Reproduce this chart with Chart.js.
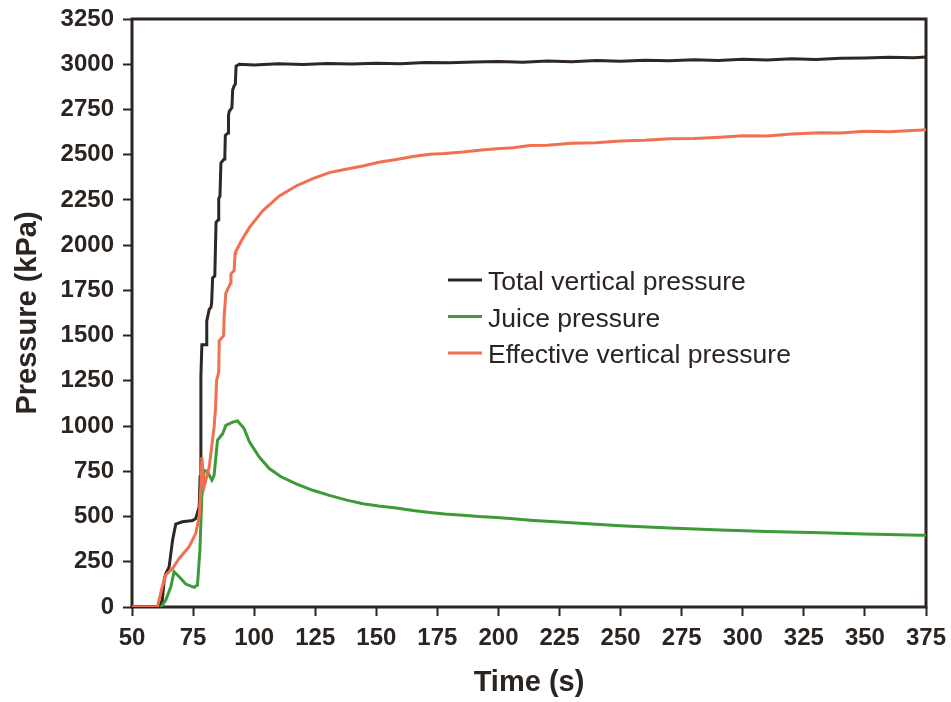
<!DOCTYPE html>
<html>
<head>
<meta charset="utf-8">
<script src="https://cdn.jsdelivr.net/npm/chart.js@4.4.1/dist/chart.umd.min.js"></script>
<style>
    html, body { margin: 0; background: #fff; }
    #wrap { width: 951px; height: 702px; }
</style>
</head>
<body>
<div id="wrap"><canvas id="chart" width="951" height="702"></canvas></div>
<script>
/* Pressure vs time: total vertical, juice and effective pressure */

const INK = '#2b2421';
const C_TOTAL = '#2e2724';
const C_JUICE = '#3d9b37';
const C_EFF = '#f0704f';

const X_TICKS = [50, 75, 100, 125, 150, 175, 200, 225, 250, 275, 300, 325, 350, 375];
const Y_TICKS = [0, 250, 500, 750, 1000, 1250, 1500, 1750, 2000, 2250, 2500, 2750, 3000, 3250];

// Total vertical pressure
const totalTime = [
    50, 60.5, 62.4, 63.2, 63.8, 65.2,
    66.6, 67.9, 70.6, 74.8, 76.1, 77.5,
    77.9, 78.2, 78.6, 80.4, 80.6, 81.6,
    82.3, 82.6, 83.0, 83.9, 84.1, 84.4,
    85.3, 85.5, 86.0, 86.4, 87.7, 88.0,
    88.2, 89.3, 89.5, 89.8, 90.9, 91.2,
    91.8, 92.3, 92.6, 93.9, 100, 110,
    120, 130, 140, 150, 160, 170, 180, 190, 200, 210, 220, 230, 240,
    250, 260, 270, 280, 290, 300, 310, 320, 330, 340, 350, 360, 370, 375,
];
const totalKPa = [
    0, 0, 37, 150, 184, 222,
    369, 458, 471, 478, 489, 553,
    720, 1274, 1449, 1449, 1580, 1645,
    1656, 1680, 1820, 1830, 1951, 2126,
    2140, 2257, 2270, 2454, 2476, 2490,
    2607, 2620, 2716, 2740, 2760, 2858,
    2880, 2890, 2989, 3000, 2996, 3002,
    2998, 3004, 3001, 3006, 3003, 3010, 3008, 3012, 3015, 3011, 3018, 3014, 3020,
    3017, 3022, 3019, 3025, 3021, 3027, 3024, 3030, 3026, 3033, 3035, 3038, 3036, 3040,
];

// Juice pressure
const juiceTime = [
    50, 61.9, 63.8, 65.9, 67.2, 69.3,
    72.0, 75.4, 76.8, 77.8, 78.6, 79.5,
    80.9, 82.7, 83.6, 85.0, 87.1, 88.4,
    91.2, 93.2, 95.9, 98, 102, 106.2,
    111, 117.2, 124, 130.8, 137.5, 144.5,
    151, 158.2, 165, 171.9, 178, 185.5,
    192, 199.2, 206, 212.9, 230, 249.8,
    270, 290.9, 310, 331.9, 350, 373, 375,
];
const juiceKPa = [
    0, 0, 37, 112, 195, 167,
    127, 109, 121, 315, 627, 756,
    747, 701, 728, 921, 958, 1004,
    1022, 1028, 986, 915, 830, 765,
    720, 681, 645, 617, 592, 571,
    558, 547, 533, 522, 514, 507,
    500, 495, 488, 480, 465, 449,
    436, 425, 417, 410, 404, 397, 397,
];

// Effective vertical pressure
const effTime = [
    50, 60.4, 62.4, 63.8, 66.6, 69.3,
    73.4, 76.1, 77.5, 78.2, 78.6, 79.5,
    81.6, 83.6, 84.2, 84.6, 85.5, 85.7,
    87.5, 87.7, 88.4, 90.3, 90.5, 91.8,
    92.2, 92.5, 95, 98, 103.5, 110.3,
    117.2, 124, 130.8, 137.5, 144.5, 151,
    158.2, 165, 171.9, 178, 185.5, 192, 199.2,
    206, 212.9, 220, 230, 240, 249.8, 260, 270, 280, 290.9,
    300, 310, 320, 331.9, 340, 350, 360, 373, 375,
];
const effKPa = [
    0, 0, 112, 177, 213, 268,
    333, 407, 498, 664, 829, 664,
    774, 994, 1100, 1250, 1300, 1471,
    1500, 1602, 1733, 1790, 1842, 1860,
    1955, 1965, 2030, 2097, 2190, 2272,
    2327, 2368, 2401, 2420, 2438, 2458,
    2474, 2490, 2502, 2506, 2515, 2525, 2533,
    2538, 2551, 2552, 2563, 2566, 2575, 2580, 2588, 2590, 2597,
    2605, 2603, 2614, 2621, 2620, 2629, 2627, 2636, 2638,
];

const LEGEND = [
    { label: 'Total vertical pressure', color: C_TOTAL },
    { label: 'Juice pressure', color: C_JUICE },
    { label: 'Effective vertical pressure', color: C_EFF },
];

const pts = (xs, ys) => xs.map((x, i) => ({ x, y: ys[i] }));

// рамка вокруг области графика + легенда внутри неё
const frameLegend = {
    id: 'frameLegend',
    beforeDatasetsDraw(chart) {
        const { ctx, chartArea: a } = chart;
        ctx.save();
        ctx.strokeStyle = INK;
        ctx.lineWidth = 3;
        ctx.strokeRect(a.left, a.top, a.right - a.left, a.bottom - a.top);
        ctx.restore();
    },
    afterDraw(chart) {
        const { ctx } = chart;
        ctx.save();
        ctx.font = '26.5px "Liberation Sans", Arial, sans-serif';
        ctx.textBaseline = 'alphabetic';
        ctx.textAlign = 'left';
        LEGEND.forEach((it, i) => {
            const y = 280 + i * 36.5;
            ctx.strokeStyle = it.color;
            ctx.lineWidth = 3;
            ctx.beginPath();
            ctx.moveTo(448, y);
            ctx.lineTo(482, y);
            ctx.stroke();
            ctx.fillStyle = INK;
            ctx.fillText(it.label, 488, y + 10);
        });
        ctx.restore();
    },
};

const tickFont = { family: '"Liberation Sans", Arial, sans-serif', size: 24, weight: 'bold' };
const titleFont = { family: '"Liberation Sans", Arial, sans-serif', size: 29, weight: 'bold' };

new Chart(document.getElementById('chart'), {
    type: 'line',
    data: {
        datasets: [
            { label: 'Total vertical pressure', data: pts(totalTime, totalKPa), borderColor: C_TOTAL, order: 1 },
            { label: 'Juice pressure', data: pts(juiceTime, juiceKPa), borderColor: C_JUICE, order: 2 },
            { label: 'Effective vertical pressure', data: pts(effTime, effKPa), borderColor: C_EFF, order: 0 },
        ].map((d) => ({ ...d, borderWidth: 3, pointRadius: 0, tension: 0, fill: false })),
    },
    options: {
        responsive: false,
        animation: false,
        layout: { padding: { top: 19, right: 25, bottom: 0, left: 0 } },
        plugins: { legend: { display: false }, tooltip: { enabled: false } },
        scales: {
            x: {
                type: 'linear',
                min: 50,
                max: 375,
                afterBuildTicks: (s) => { s.ticks = X_TICKS.map((v) => ({ value: v })); },
                afterFit: (s) => { s.height = 95; s.paddingLeft = 0; s.paddingRight = 0; },
                grid: { drawOnChartArea: false, drawTicks: true, tickLength: 9, tickWidth: 2, color: INK },
                border: { display: false },
                ticks: { color: INK, font: tickFont, padding: 8, maxRotation: 0, callback: (v) => String(v) },
                title: { display: true, text: 'Time (s)', color: INK, font: titleFont, padding: { top: 0, bottom: 2 } },
            },
            y: {
                min: 0,
                max: 3250,
                afterBuildTicks: (s) => { s.ticks = Y_TICKS.map((v) => ({ value: v })); },
                afterFit: (s) => { s.width = 132; s.paddingTop = 0; s.paddingBottom = 0; },
                grid: { drawOnChartArea: false, drawTicks: true, tickLength: 9, tickWidth: 2, color: INK },
                border: { display: false },
                ticks: { color: INK, font: tickFont, padding: 9, callback: (v) => String(v) },
                title: { display: true, text: 'Pressure (kPa)', color: INK, font: titleFont, padding: { top: 11, bottom: 0 } },
            },
        },
    },
    plugins: [frameLegend],
});
</script>
</body>
</html>
